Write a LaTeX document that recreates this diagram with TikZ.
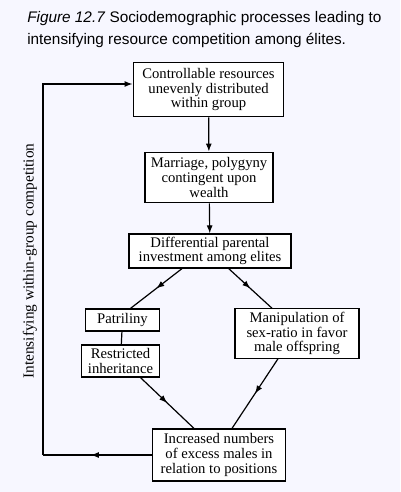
\documentclass[tikz,border=0pt]{standalone}
\usepackage{fontspec}
\setmainfont{Liberation Serif}
\setsansfont{Liberation Sans}
\usetikzlibrary{arrows.meta,decorations.markings}

\begin{document}
\begin{tikzpicture}[x=0.75pt, y=-0.75pt]

      \tikzset{
        stage/.style={
          draw, line width=0.9pt, fill=white,
          align=center, inner sep=1pt,
          font=\fontsize{11}{11}\selectfont,
        },
        flow/.style={
          line width=0.9pt,
          -{Latex[length=6pt,width=4.5pt]},
        },
        midflow/.style={
          line width=0.9pt,
          postaction={decorate},
          decoration={markings,
            mark=at position #1 with {\arrow{Latex[length=6pt,width=4.5pt]}}},
        },
        midflow/.default=0.55,
      }

      % paper and margins
      \fill[blue!3!white] (0,0) rectangle (400,492);

      \node[anchor=north west, align=left, inner sep=0pt,
            font=\sffamily\fontsize{11.5}{16.5}\selectfont] (caption) at (27,11)
        {\textit{Figure 12.7} Sociodemographic processes leading to\\
         intensifying resource competition among élites.};

      \node[stage, minimum width=113pt, minimum height=41pt] (resources) at (208.5,89.5)
        {Controllable resources\\ unevenly distributed\\ within group};
      \node[stage, minimum width=96pt, minimum height=38pt] (marriage) at (209,177.5)
        {Marriage, polygyny\\ contingent upon\\ wealth};
      \node[stage, minimum width=121.5pt, minimum height=25.5pt] (invest) at (210,251)
        {Differential parental\\ investment among elites};
      \node[stage, minimum width=55pt, minimum height=16.5pt] (patri) at (122.5,320)
        {Patriliny};
      \node[stage, minimum width=58pt, minimum height=24pt] (inherit) at (120.5,361)
        {Restricted\\ inheritance};
      \node[stage, minimum width=93pt, minimum height=37pt] (sexratio) at (297,333.5)
        {Manipulation of\\ sex-ratio in favor\\ male offspring};
      \node[stage, minimum width=100pt, minimum height=39pt] (excess) at (219,455)
        {Increased numbers\\ of excess males in\\ relation to positions};

      \node[rotate=90, inner sep=0pt, font=\fontsize{11.5}{12}\selectfont] (loopnote) at (30,261)
        {Intensifying within-group competition};

      \draw[flow] (resources) -- (marriage);
      \draw[flow] (marriage) -- (invest);
      \draw[midflow=0.5] ([xshift=-21pt]invest.south) -- ([xshift=6pt]patri.north);
      \draw[midflow=0.5] ([xshift=14pt]invest.south) -- ([xshift=-18.75pt]sexratio.north);
      \draw[line width=0.9pt] (patri) -- (inherit);
      \draw[midflow=0.5] ([xshift=15pt]inherit.south) -- ([xshift=-18.75pt]excess.north);
      \draw[midflow=0.5] ([xshift=-14.25pt]sexratio.south) -- ([xshift=9.75pt]excess.north);

      % feedback loop
      \coordinate (looptop) at (43,84);
      \coordinate (loopbot) at (43,455);
      \draw[midflow=0.56] (excess.west) -- (loopbot);
      \draw[flow] (loopbot) -- (looptop) -- (looptop -| resources.west);

    \end{tikzpicture}
\end{document}
